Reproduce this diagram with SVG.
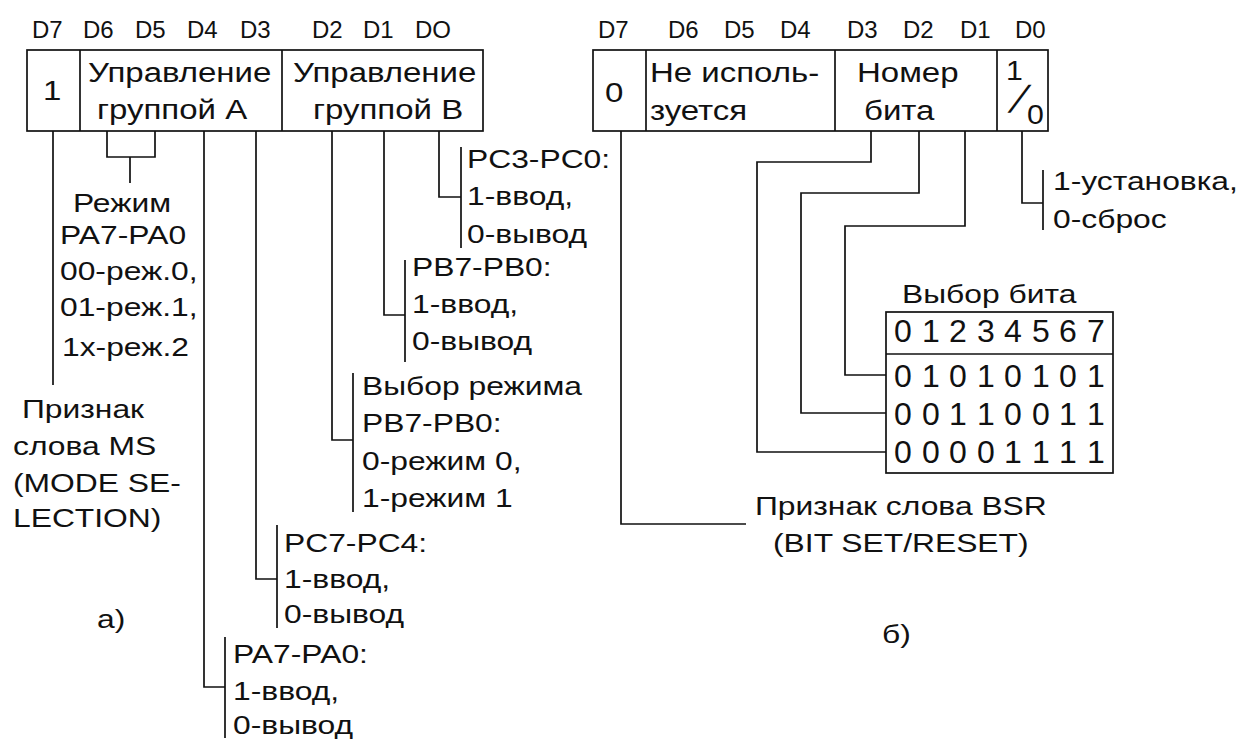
<svg xmlns="http://www.w3.org/2000/svg" width="1244" height="744" viewBox="0 0 1244 744">
<style>
  text { font-family: "Liberation Sans", Arial, sans-serif; fill: #111; }
  .h { font-size: 24px; }
  .b { font-size: 27.5px; }
  .t { font-size: 26.5px; }
  .d { font-size: 32px; text-anchor: middle; }
  .sl { font-family: "DejaVu Sans Mono", monospace; font-size: 24px; }
  .box { fill: #fff; stroke: #111; stroke-width: 1.7; }
  .ln { fill: none; stroke: #111; stroke-width: 1.7; }
</style>
<rect width="1244" height="744" fill="#fff"/>

<!-- ===== Left: mode selection word ===== -->
<g id="left-header">
  <text class="h" y="38"><tspan x="32">D7</tspan><tspan x="83">D6</tspan><tspan x="135">D5</tspan><tspan x="187">D4</tspan><tspan x="240">D3</tspan><tspan x="312">D2</tspan><tspan x="363">D1</tspan><tspan x="415">DO</tspan></text>
</g>
<g id="left-register">
  <rect class="box" x="27" y="50" width="456" height="81"/>
  <line class="ln" x1="80" y1="50" x2="80" y2="131"/>
  <line class="ln" x1="282" y1="50" x2="282" y2="131"/>
  <text class="b" transform="translate(43,100) scale(1.2,1)">1</text>
  <text class="b" transform="translate(88,82) scale(1.2,1)">Управление</text>
  <text class="b" transform="translate(97,119) scale(1.2,1)">группой А</text>
  <text class="b" transform="translate(293,82) scale(1.2,1)">Управление</text>
  <text class="b" transform="translate(313,119) scale(1.2,1)">группой В</text>
</g>

<g id="connectors">
  <!-- left -->
  <path class="ln" d="M53,131 V385"/>
  <path class="ln" d="M107,131 V157 H155 V131 M130,157 V183"/>
  <path class="ln" d="M204,131 V687 H225 M225,637 V738"/>
  <path class="ln" d="M256,131 V579 H277 M277,525 V628"/>
  <path class="ln" d="M332,131 V440 H353 M353,373 V512"/>
  <path class="ln" d="M384,131 V315 H405 M405,260 V362"/>
  <path class="ln" d="M439,131 V197 H461 M461,147 V248"/>
  <!-- right -->
  <path class="ln" d="M621,131 V524 H746"/>
  <path class="ln" d="M871,131 V162 H757 V452 H886"/>
  <path class="ln" d="M919,131 V193 H801 V413 H886"/>
  <path class="ln" d="M965,131 V226 H845 V375 H886"/>
  <path class="ln" d="M1022,131 V203 H1043 M1043,170 V230"/>
</g>

<g id="label-mode-a">
  <text class="t" transform="translate(73,212) scale(1.2,1)">Режим</text>
  <text class="t" transform="translate(60,244) scale(1.2,1)">PA7-PA0</text>
  <text class="t" transform="translate(60,280) scale(1.2,1)">00-реж.0,</text>
  <text class="t" transform="translate(60,316) scale(1.2,1)">01-реж.1,</text>
  <text class="t" transform="translate(62,356) scale(1.2,1)">1x-реж.2</text>
</g>
<g id="label-ms">
  <text class="t" transform="translate(22,418) scale(1.2,1)">Признак</text>
  <text class="t" transform="translate(13,455) scale(1.2,1)">слова MS</text>
  <text class="t" transform="translate(13,492) scale(1.2,1)">(MODE SE-</text>
  <text class="t" transform="translate(13,527) scale(1.2,1)">LECTION)</text>
  <text class="t" transform="translate(97,628) scale(1.2,1)">а)</text>
</g>
<g id="label-pc3">
  <text class="t" transform="translate(467,168) scale(1.2,1)">PC3-PC0:</text>
  <text class="t" transform="translate(467,205) scale(1.2,1)">1-ввод,</text>
  <text class="t" transform="translate(467,243) scale(1.2,1)">0-вывод</text>
</g>
<g id="label-pb">
  <text class="t" transform="translate(412,276) scale(1.2,1)">PB7-PB0:</text>
  <text class="t" transform="translate(412,313) scale(1.2,1)">1-ввод,</text>
  <text class="t" transform="translate(412,350) scale(1.2,1)">0-вывод</text>
</g>
<g id="label-mode-b">
  <text class="t" transform="translate(362,395) scale(1.2,1)">Выбор режима</text>
  <text class="t" transform="translate(362,432) scale(1.2,1)">PB7-PB0:</text>
  <text class="t" transform="translate(362,470) scale(1.2,1)">0-режим 0,</text>
  <text class="t" transform="translate(362,507) scale(1.2,1)">1-режим 1</text>
</g>
<g id="label-pc7">
  <text class="t" transform="translate(284,552) scale(1.2,1)">PC7-PC4:</text>
  <text class="t" transform="translate(284,588) scale(1.2,1)">1-ввод,</text>
  <text class="t" transform="translate(284,623) scale(1.2,1)">0-вывод</text>
</g>
<g id="label-pa">
  <text class="t" transform="translate(233,663) scale(1.2,1)">PA7-PA0:</text>
  <text class="t" transform="translate(233,700) scale(1.2,1)">1-ввод,</text>
  <text class="t" transform="translate(233,734) scale(1.2,1)">0-вывод</text>
</g>

<!-- ===== Right: bit set/reset word ===== -->
<g id="right-header">
  <text class="h" y="38"><tspan x="598">D7</tspan><tspan x="668">D6</tspan><tspan x="724">D5</tspan><tspan x="780">D4</tspan><tspan x="847">D3</tspan><tspan x="903">D2</tspan><tspan x="960">D1</tspan><tspan x="1015">D0</tspan></text>
</g>
<g id="right-register">
  <rect class="box" x="593" y="50" width="455" height="81"/>
  <line class="ln" x1="646" y1="50" x2="646" y2="131"/>
  <line class="ln" x1="835" y1="50" x2="835" y2="131"/>
  <line class="ln" x1="997" y1="50" x2="997" y2="131"/>
  <text class="b" transform="translate(605,102) scale(1.2,1)">0</text>
  <text class="b" transform="translate(650,82) scale(1.2,1)">Не исполь-</text>
  <text class="b" transform="translate(650,120) scale(1.2,1)">зуется</text>
  <text class="b" transform="translate(857,82) scale(1.2,1)">Номер</text>
  <text class="b" transform="translate(864,120) scale(1.2,1)">бита</text>
  <text class="b" transform="translate(1006,80) scale(1.1,1)">1</text>
  <text class="sl" transform="translate(1009,107) scale(1.45,1)">╱</text>
  <text class="b" transform="translate(1027,124) scale(1.1,1)">0</text>
</g>
<g id="label-setreset">
  <text class="t" transform="translate(1053,190) scale(1.2,1)">1-установка,</text>
  <text class="t" transform="translate(1053,228) scale(1.2,1)">0-сброс</text>
</g>
<g id="bit-table">
  <text class="t" transform="translate(902,303) scale(1.2,1)">Выбор бита</text>
  <rect class="box" x="886" y="312" width="227" height="161"/>
  <line class="ln" x1="886" y1="354" x2="1113" y2="354"/>
  <text class="d" y="342"><tspan x="903">0</tspan><tspan x="931">1</tspan><tspan x="958">2</tspan><tspan x="986">3</tspan><tspan x="1013">4</tspan><tspan x="1041">5</tspan><tspan x="1068">6</tspan><tspan x="1096">7</tspan></text>
  <text class="d" y="387"><tspan x="903">0</tspan><tspan x="931">1</tspan><tspan x="958">0</tspan><tspan x="986">1</tspan><tspan x="1013">0</tspan><tspan x="1041">1</tspan><tspan x="1068">0</tspan><tspan x="1096">1</tspan></text>
  <text class="d" y="425"><tspan x="903">0</tspan><tspan x="931">0</tspan><tspan x="958">1</tspan><tspan x="986">1</tspan><tspan x="1013">0</tspan><tspan x="1041">0</tspan><tspan x="1068">1</tspan><tspan x="1096">1</tspan></text>
  <text class="d" y="463"><tspan x="903">0</tspan><tspan x="931">0</tspan><tspan x="958">0</tspan><tspan x="986">0</tspan><tspan x="1013">1</tspan><tspan x="1041">1</tspan><tspan x="1068">1</tspan><tspan x="1096">1</tspan></text>
</g>
<g id="label-bsr">
  <text class="t" transform="translate(755,515) scale(1.2,1)">Признак слова BSR</text>
  <text class="t" transform="translate(773,552) scale(1.2,1)">(BIT SET/RESET)</text>
  <text class="t" transform="translate(882,643) scale(1.2,1)">б)</text>
</g>
</svg>
